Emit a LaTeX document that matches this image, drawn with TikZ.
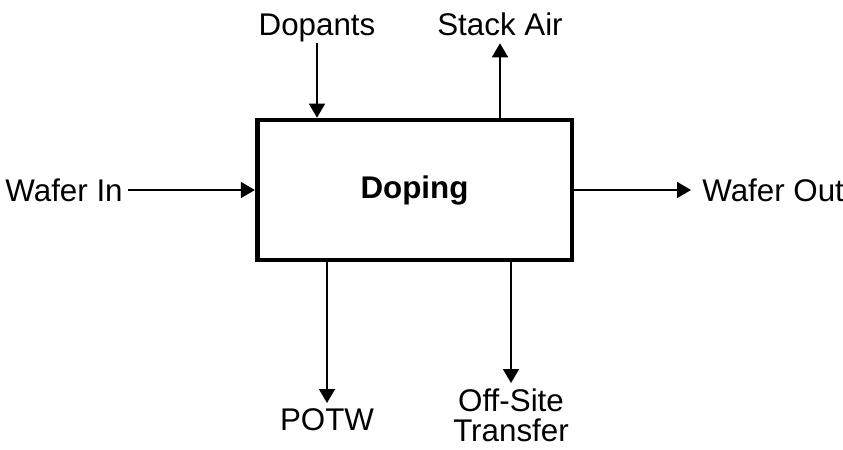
\documentclass[tikz,border=0pt]{standalone}
\usepackage{fontspec}
\setmainfont{Liberation Sans}
\usetikzlibrary{arrows.meta, positioning}

\begin{document}
\begin{tikzpicture}[x=0.75pt, y=-0.75pt,
    stage/.style={rectangle, draw, line width=3.5pt, minimum width=236pt, minimum height=105pt, font=\fontsize{23.5}{27.5}\selectfont\bfseries},
    lbl/.style={inner sep=0pt, outer sep=4pt, font=\fontsize{23.5}{22.5}\selectfont},
    flow/.style={-{Triangle[length=10.5pt, width=12pt]}, line width=1.2pt}
]
\useasboundingbox (0,0) rectangle (843,450);
\node[stage] (doping) at (414.5,190) {Doping};
\node[lbl, anchor=base, text depth=0.22em] (dopants) at (317,35) {Dopants};
\node[lbl, anchor=base, text depth=0.22em] (stack) at (500,35) {Stack Air};
\node[lbl, anchor=base east] (waferin) at (128,201) {Wafer In};
\node[lbl, anchor=base west] (waferout) at (697,201) {Wafer Out};
\node[lbl, anchor=north] (potw) at (327,403) {POTW};
\node[lbl, anchor=north, align=center] (offsite) at (511,383) {Off-Site\\Transfer};
\draw[flow] (dopants.south) -- (dopants.south |- doping.north);
\draw[flow] (stack.south |- doping.north) -- (stack.south);
\draw[flow] (waferin.east |- doping.west) -- (doping.west);
\draw[flow, shorten >=4.5pt] (doping.east) -- (doping.east -| waferout.west);
\draw[flow] (potw.north |- doping.south) -- (potw.north);
\draw[flow] (offsite.north |- doping.south) -- (offsite.north);
\end{tikzpicture}
\end{document}
